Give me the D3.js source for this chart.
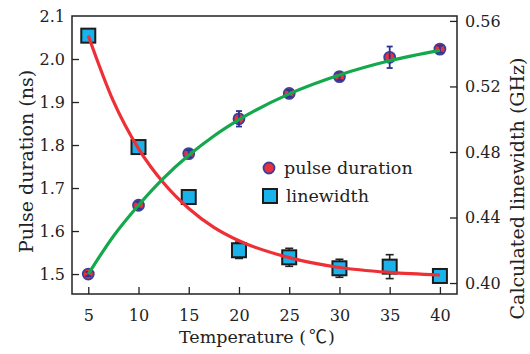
<!DOCTYPE html>
<html><head><meta charset="utf-8">
<script src="https://cdn.jsdelivr.net/npm/d3@7"></script>
<style>body{margin:0;background:#fff}svg{display:block}text{font-family:"DejaVu Serif",serif;fill:#222}</style>
</head><body>
<svg id="c" width="530" height="354"></svg>
<script>
const temperature = [5, 10, 15, 20, 25, 30, 35, 40];
const pulseDuration = [1.50, 1.66, 1.78, 1.861, 1.92, 1.959, 2.004, 2.023];
const pulseErr = [0.005, 0.008, 0.008, 0.018, 0.008, 0.008, 0.025, 0.008];
const linewidth = [0.551, 0.483, 0.4525, 0.420, 0.4157, 0.409, 0.410, 0.4043];
const linewidthErr = [0.003, 0.003, 0.003, 0.005, 0.0055, 0.0055, 0.0073, 0.003];
// fitted curves
const fitX = [5, 7.5, 10, 12.5, 15, 17.5, 20, 25, 30, 35, 40];
const pulseFit = [1.50, 1.588, 1.66, 1.723, 1.776, 1.821, 1.859, 1.919, 1.963, 1.996, 2.02];
const linewidthFit = [0.551, 0.511, 0.482, 0.461, 0.4455, 0.434, 0.4258, 0.4155, 0.4095, 0.4065, 0.4049];
const xTicks = [5, 10, 15, 20, 25, 30, 35, 40];
const leftTicks = [1.5, 1.6, 1.7, 1.8, 1.9, 2.0, 2.1];
const rightTicks = [0.40, 0.44, 0.48, 0.52, 0.56];

const L = 72, R = 457, T = 16, B = 294;
const svg = d3.select("#c");
const x = d3.scaleLinear().domain([3.38, 41.7]).range([L, R]);
const yL = d3.scaleLinear().domain([1.4536, 2.1]).range([B, T]);
const yR = d3.scaleLinear().domain([0.3933, 0.5630]).range([B, T]);

const axColor = "#222";
const gx = svg.append("g").attr("transform", `translate(0,${B})`)
  .call(d3.axisBottom(x).tickValues(xTicks).tickSizeInner(-7).tickSizeOuter(0).tickPadding(16).tickFormat(d3.format("d")));
const gl = svg.append("g").attr("transform", `translate(${L},0)`)
  .call(d3.axisLeft(yL).tickValues(leftTicks).tickSizeInner(-7).tickSizeOuter(0).tickPadding(7).tickFormat(d3.format(".1f")));
const gr = svg.append("g").attr("transform", `translate(${R},0)`)
  .call(d3.axisRight(yR).tickValues(rightTicks).tickSizeInner(-7).tickSizeOuter(0).tickPadding(8).tickFormat(d3.format(".2f")));
[gx, gl, gr].forEach(g => {
  g.select(".domain").remove();
  g.selectAll(".tick line").attr("stroke", axColor).attr("stroke-width", 1.3);
  g.selectAll(".tick text").attr("font-size", 16).attr("font-family", "DejaVu Serif").attr("fill", "#222");
});
gl.selectAll(".tick").filter(d => d === 2.1).select("line").remove();
svg.append("rect").attr("x", L).attr("y", T).attr("width", R - L).attr("height", B - T)
  .attr("fill", "none").attr("stroke", axColor).attr("stroke-width", 1.5);

// error bars - linewidth
const ebL = svg.append("g").attr("stroke", "#222").attr("stroke-width", 1.6);
temperature.forEach((t, i) => {
  const cx = x(t), y1 = yR(linewidth[i] - linewidthErr[i]), y2 = yR(linewidth[i] + linewidthErr[i]);
  ebL.append("line").attr("x1", cx).attr("x2", cx).attr("y1", y1).attr("y2", y2);
  ebL.append("line").attr("x1", cx - 4).attr("x2", cx + 4).attr("y1", y1).attr("y2", y1);
  ebL.append("line").attr("x1", cx - 4).attr("x2", cx + 4).attr("y1", y2).attr("y2", y2);
});
// squares
svg.append("g").selectAll("rect").data(temperature).join("rect")
  .attr("x", d => x(d) - 7).attr("y", (d, i) => yR(linewidth[i]) - 7)
  .attr("width", 14).attr("height", 14)
  .attr("fill", "#1ab2ea").attr("stroke", "#1c1c1c").attr("stroke-width", 2);

// red fit line
svg.append("path").datum(fitX)
  .attr("d", d3.line().x(d => x(d)).y((d, i) => yR(linewidthFit[i])).curve(d3.curveMonotoneX))
  .attr("fill", "none").attr("stroke", "#ee2f36").attr("stroke-width", 3.2);

// circles
svg.append("g").selectAll("circle").data(temperature).join("circle")
  .attr("cx", d => x(d)).attr("cy", (d, i) => yL(pulseDuration[i])).attr("r", 5.5)
  .attr("fill", "#e8313b").attr("stroke", "#3b3f9c").attr("stroke-width", 1.8);
// error bars - pulse
const ebP = svg.append("g").attr("stroke", "#2e3192").attr("stroke-width", 1.8);
temperature.forEach((t, i) => {
  const cx = x(t), y1 = yL(pulseDuration[i] - pulseErr[i]), y2 = yL(pulseDuration[i] + pulseErr[i]);
  ebP.append("line").attr("x1", cx).attr("x2", cx).attr("y1", y1).attr("y2", y2);
  ebP.append("line").attr("x1", cx - 3).attr("x2", cx + 3).attr("y1", y1).attr("y2", y1);
  ebP.append("line").attr("x1", cx - 3).attr("x2", cx + 3).attr("y1", y2).attr("y2", y2);
});
// green fit line
svg.append("path").datum(fitX)
  .attr("d", d3.line().x(d => x(d)).y((d, i) => yL(pulseFit[i])).curve(d3.curveMonotoneX))
  .attr("fill", "none").attr("stroke", "#14a84c").attr("stroke-width", 3.2);

// legend
svg.append("circle").attr("cx", 269).attr("cy", 168).attr("r", 5.5)
  .attr("fill", "#e8313b").attr("stroke", "#3b3f9c").attr("stroke-width", 1.8);
svg.append("text").attr("x", 284).attr("y", 174).attr("font-size", 17.5).text("pulse duration");
svg.append("rect").attr("x", 263).attr("y", 189).attr("width", 14).attr("height", 14)
  .attr("fill", "#1ab2ea").attr("stroke", "#1c1c1c").attr("stroke-width", 2);
svg.append("text").attr("x", 286).attr("y", 202).attr("font-size", 17.5).text("linewidth");

// axis titles
const xt = svg.append("text").attr("x", 179).attr("y", 343).attr("font-size", 17.5);
xt.append("tspan").text("Temperature (");
xt.append("tspan").attr("dx", 3).attr("font-family", "Noto Sans CJK SC").attr("font-size", 18).text("℃");
xt.append("tspan").attr("dx", 1).text(")");
svg.append("text").attr("transform", "translate(33,161.5) rotate(-90)").attr("text-anchor", "middle")
  .attr("font-size", 19).text("Pulse duration (ns)");
svg.append("text").attr("transform", "translate(524,188.5) rotate(-90)").attr("text-anchor", "middle")
  .attr("font-size", 19).text("Calculated linewidth (GHz)");
</script>
</body></html>
